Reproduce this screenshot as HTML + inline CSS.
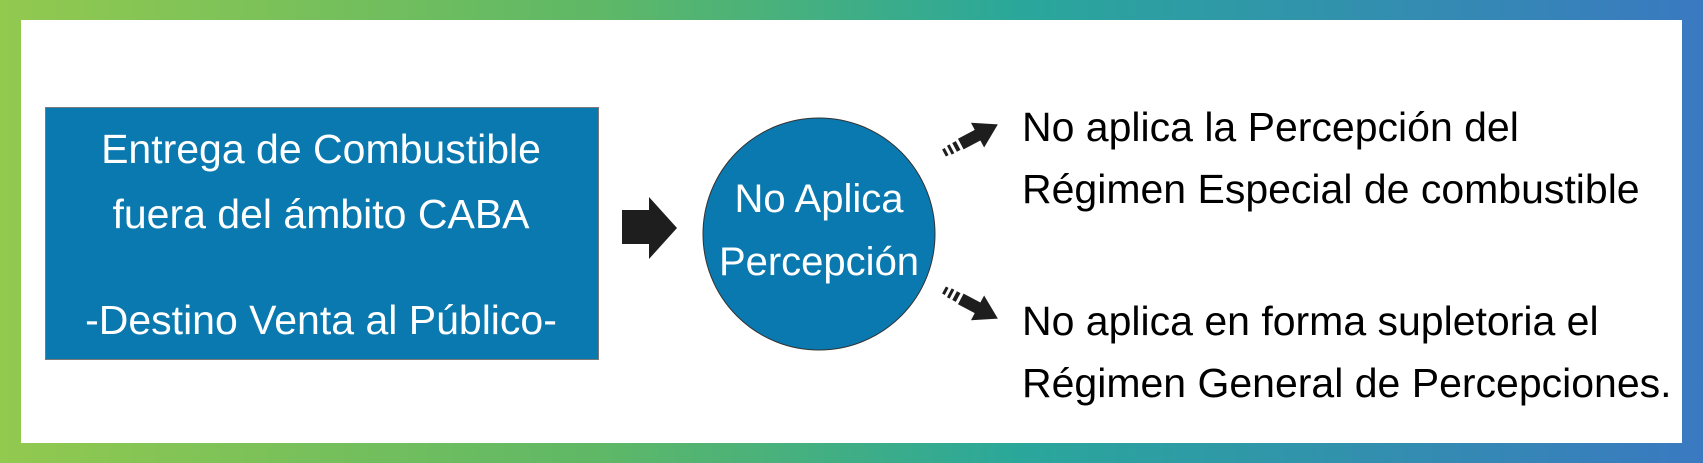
<!DOCTYPE html>
<html><head><meta charset="utf-8"><style>
html,body{margin:0;padding:0;}
body{width:1703px;height:463px;position:relative;overflow:hidden;background:#fff;font-family:"Liberation Sans",sans-serif;}
.frame{position:absolute;left:0;top:0;width:1703px;height:463px;background:linear-gradient(90deg,#92c94f 0%,#5fb866 35%,#2aa79b 60%,#3a79c1 100%);}
.inner{position:absolute;left:21px;top:20px;width:1661px;height:423px;background:#fff;}
.box{position:absolute;left:45px;top:107px;width:552px;height:251px;background:#0979b0;border:1px solid #7a7a7a;}
.t{position:absolute;white-space:nowrap;font-size:41px;line-height:1;}
.w{color:#fff;}
.k{color:#000;}
</style></head><body>
<div class="frame"></div><div class="inner"></div>
<div class="box"></div>
<svg width="1703" height="463" style="position:absolute;left:0;top:0">
<circle cx="819" cy="234" r="116" fill="#0979b0" stroke="#333" stroke-width="1"/>
<polygon points="622,210 649,210 649,197 677,228 649,259 649,244 622,244" fill="#1e1e1e"/>
<g transform="translate(944,153) rotate(-28)">
<rect x="0" y="-4" width="3" height="8" fill="#1e1e1e"/>
<rect x="6" y="-5" width="3" height="10" fill="#1e1e1e"/>
<rect x="12" y="-5" width="4" height="10" fill="#1e1e1e"/>
<polygon points="19,-6 38,-6 38,-14 61,0 38,14 38,6 19,6" fill="#1e1e1e"/>
</g>
<g transform="translate(944,290) rotate(28)">
<rect x="0" y="-4" width="3" height="8" fill="#1e1e1e"/>
<rect x="6" y="-5" width="3" height="10" fill="#1e1e1e"/>
<rect x="12" y="-5" width="4" height="10" fill="#1e1e1e"/>
<polygon points="19,-6 38,-6 38,-14 61,0 38,14 38,6 19,6" fill="#1e1e1e"/>
</g>
<g font-family="Liberation Sans, sans-serif" font-size="41" fill="#fff" text-anchor="middle">
<text x="321" y="163">Entrega de Combustible</text>
<text x="321" y="228">fuera del ámbito CABA</text>
<text x="321" y="334">-Destino Venta al Público-</text>
<text x="819" y="212" font-size="40">No Aplica</text>
<text x="819" y="275" font-size="40">Percepción</text>
</g>
<g font-family="Liberation Sans, sans-serif" font-size="41" fill="#000">
<text x="1022" y="141">No aplica la Percepción del</text>
<text x="1022" y="203">Régimen Especial de combustible</text>
<text x="1022" y="335">No aplica en forma supletoria el</text>
<text x="1022" y="397">Régimen General de Percepciones.</text>
</g>
</svg>
</body></html>
